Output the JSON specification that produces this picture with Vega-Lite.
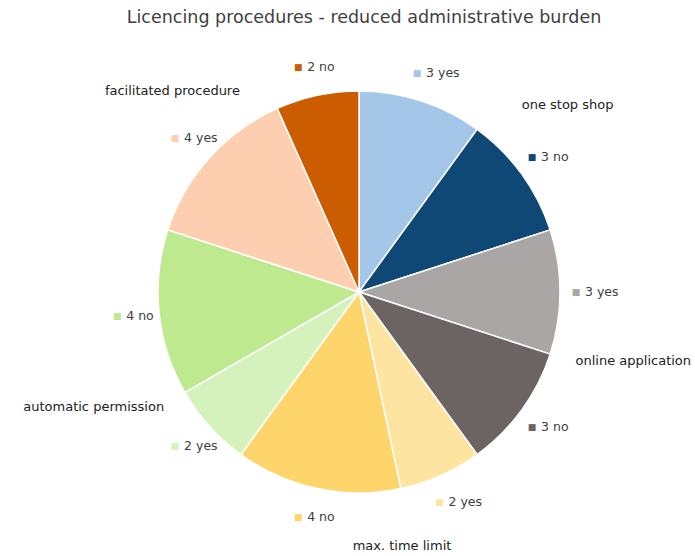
{
  "$schema": "https://vega.github.io/schema/vega-lite/v6.json",
  "width": 672,
  "height": 528,
  "autosize": {"type": "none"},
  "padding": {"left": 23, "top": 28, "right": 0, "bottom": 0},
  "background": "white",
  "view": {"stroke": null},
  "title": {
    "text": "Licencing procedures  - reduced administrative burden",
    "font": "DejaVu Sans",
    "fontSize": 17.5,
    "fontWeight": "normal",
    "color": "#404040",
    "anchor": "middle",
    "dx": 5,
    "offset": 2
  },
  "datasets": {
    "slices": [
      {"idx": 1, "procedure": "one stop shop", "answer": "yes", "count": 3, "label": "3 yes", "slice": "one stop shop yes"},
      {"idx": 2, "procedure": "one stop shop", "answer": "no", "count": 3, "label": "3 no", "slice": "one stop shop no"},
      {"idx": 3, "procedure": "online application", "answer": "yes", "count": 3, "label": "3 yes", "slice": "online application yes"},
      {"idx": 4, "procedure": "online application", "answer": "no", "count": 3, "label": "3 no", "slice": "online application no"},
      {"idx": 5, "procedure": "max. time limit", "answer": "yes", "count": 2, "label": "2 yes", "slice": "max. time limit yes"},
      {"idx": 6, "procedure": "max. time limit", "answer": "no", "count": 4, "label": "4 no", "slice": "max. time limit no"},
      {"idx": 7, "procedure": "automatic permission", "answer": "yes", "count": 2, "label": "2 yes", "slice": "automatic permission yes"},
      {"idx": 8, "procedure": "automatic permission", "answer": "no", "count": 4, "label": "4 no", "slice": "automatic permission no"},
      {"idx": 9, "procedure": "facilitated procedure", "answer": "yes", "count": 4, "label": "4 yes", "slice": "facilitated procedure yes"},
      {"idx": 10, "procedure": "facilitated procedure", "answer": "no", "count": 2, "label": "2 no", "slice": "facilitated procedure no"}
    ],
    "groups": [
      {"idx": 1, "procedure": "one stop shop", "count": 6},
      {"idx": 2, "procedure": "online application", "count": 6},
      {"idx": 3, "procedure": "max. time limit", "count": 6},
      {"idx": 4, "procedure": "automatic permission", "count": 6},
      {"idx": 5, "procedure": "facilitated procedure", "count": 6}
    ]
  },
  "layer": [
    {
      "data": {"name": "slices"},
      "mark": {"type": "arc", "outerRadius": 201, "stroke": "white", "strokeWidth": 1.5},
      "encoding": {
        "theta": {"field": "count", "type": "quantitative", "stack": true},
        "order": {"field": "idx", "type": "quantitative"},
        "color": {
          "field": "slice",
          "type": "nominal",
          "legend": null,
          "scale": {
            "domain": ["one stop shop yes", "one stop shop no", "online application yes", "online application no", "max. time limit yes", "max. time limit no", "automatic permission yes", "automatic permission no", "facilitated procedure yes", "facilitated procedure no"],
            "range": ["#a3c6e9", "#0f4775", "#a9a6a5", "#6b6463", "#fde4a1", "#fed56b", "#d5f2bc", "#bfe98f", "#fdcfb0", "#cb5c00"]
          }
        }
      }
    },
    {
      "data": {"name": "slices"},
      "mark": {"type": "text", "radius": 230, "text": "■", "font": "DejaVu Sans", "fontSize": 9, "align": "center", "baseline": "middle", "dx": -13},
      "encoding": {
        "theta": {"field": "count", "type": "quantitative", "stack": true},
        "order": {"field": "idx", "type": "quantitative"},
        "color": {"field": "slice", "type": "nominal", "legend": null}
      }
    },
    {
      "data": {"name": "slices"},
      "mark": {"type": "text", "radius": 230, "font": "DejaVu Sans", "fontSize": 12.5, "align": "left", "baseline": "middle", "dx": -4, "color": "#404040"},
      "encoding": {
        "theta": {"field": "count", "type": "quantitative", "stack": true},
        "order": {"field": "idx", "type": "quantitative"},
        "text": {"field": "label", "type": "nominal"}
      }
    },
    {
      "data": {"name": "groups"},
      "mark": {"type": "text", "radius": 280, "dx": 44, "dy": 40, "font": "DejaVu Sans", "fontSize": 13, "align": "center", "baseline": "middle", "color": "#222222"},
      "encoding": {
        "theta": {"field": "count", "type": "quantitative", "stack": true},
        "order": {"field": "idx", "type": "quantitative"},
        "text": {"condition": {"test": "datum.procedure === 'one stop shop'", "field": "procedure"}, "value": ""}
      }
    },
    {
      "data": {"name": "groups"},
      "mark": {"type": "text", "radius": 280, "dx": 8, "dy": -18, "font": "DejaVu Sans", "fontSize": 13, "align": "center", "baseline": "middle", "color": "#222222"},
      "encoding": {
        "theta": {"field": "count", "type": "quantitative", "stack": true},
        "order": {"field": "idx", "type": "quantitative"},
        "text": {"condition": {"test": "datum.procedure === 'online application'", "field": "procedure"}, "value": ""}
      }
    },
    {
      "data": {"name": "groups"},
      "mark": {"type": "text", "radius": 254, "dx": 43, "dy": 0, "font": "DejaVu Sans", "fontSize": 13, "align": "center", "baseline": "middle", "color": "#222222"},
      "encoding": {
        "theta": {"field": "count", "type": "quantitative", "stack": true},
        "order": {"field": "idx", "type": "quantitative"},
        "text": {"condition": {"test": "datum.procedure === 'max. time limit'", "field": "procedure"}, "value": ""}
      }
    },
    {
      "data": {"name": "groups"},
      "mark": {"type": "text", "radius": 280, "dx": 1, "dy": 28, "font": "DejaVu Sans", "fontSize": 13, "align": "center", "baseline": "middle", "color": "#222222"},
      "encoding": {
        "theta": {"field": "count", "type": "quantitative", "stack": true},
        "order": {"field": "idx", "type": "quantitative"},
        "text": {"condition": {"test": "datum.procedure === 'automatic permission'", "field": "procedure"}, "value": ""}
      }
    },
    {
      "data": {"name": "groups"},
      "mark": {"type": "text", "radius": 280, "dx": -22, "dy": 26, "font": "DejaVu Sans", "fontSize": 13, "align": "center", "baseline": "middle", "color": "#222222"},
      "encoding": {
        "theta": {"field": "count", "type": "quantitative", "stack": true},
        "order": {"field": "idx", "type": "quantitative"},
        "text": {"condition": {"test": "datum.procedure === 'facilitated procedure'", "field": "procedure"}, "value": ""}
      }
    }
  ]
}
